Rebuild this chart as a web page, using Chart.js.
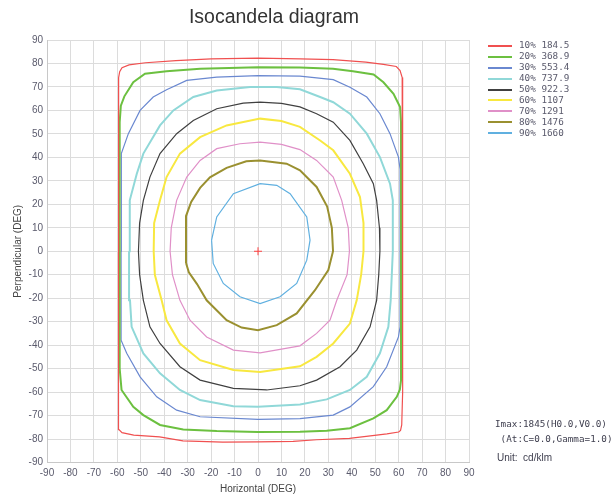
<!DOCTYPE html>
<html>
<head>
<meta charset="utf-8">
<title>Isocandela diagram</title>
<script src="https://cdn.jsdelivr.net/npm/chart.js@4.4.1/dist/chart.umd.min.js"></script>
<style>
  html, body { margin: 0; padding: 0; background: #fff; }
  #wrap { position: relative; width: 613px; height: 496px; }
</style>
</head>
<body>
<div id="wrap"><canvas id="iso" width="613" height="496"></canvas></div>
<script>
// --- Data ---
const titleText = 'Isocandela diagram';
const levels    = ['10%', '20%', '30%', '40%', '50%', '60%', '70%', '80%', '90%'];
const values    = ['184.5', '368.9', '553.4', '737.9', '922.3', '1107', '1291', '1476', '1660'];
const infoLines = ['Imax:1845(H0.0,V0.0)', ' (At:C=0.0,Gamma=1.0)'];
const unitText  = 'Unit:  cd/klm';
const axisRange = { min: -90, max: 90, step: 10 };
const centre    = [[0, 0]];

// contour points [horizontal, perpendicular] in degrees
const c10 = [[-59.5,0],[-59.5,60],[-59.4,74],[-59,76.5],[-58,78.2],[-55,79.4],[-48,80.3],[-35,81.2],[-20,82],[0,82.3],[18,82],[32,81.6],[46,80.6],[53.5,79.6],[59,78.7],[60.6,77],[61.5,74],[61.7,60],[61.7,0],[61.7,-60],[61.3,-74],[60.8,-76.3],[60,-77],[55,-77.8],[50.6,-78.3],[39,-79.7],[25,-80.3],[15,-81],[0,-81.2],[-15,-81.3],[-32,-80.8],[-42,-79.1],[-53,-78.3],[-58,-77.3],[-59.3,-76],[-59.5,-60],[-59.5,0]];
const c20 = [[-59,0],[-59,55],[-58.5,62],[-57,66],[-53.2,72],[-48.2,75.6],[-39,76.7],[-24.7,77.7],[0,78.4],[17.9,78.3],[32,77.7],[40.5,76.7],[49.3,75.3],[53.5,72],[57.8,67.1],[60.6,61.4],[61,55],[61,0],[61,-55],[60.5,-59],[59.2,-62],[54.9,-67.7],[49.2,-71.2],[39.2,-75.4],[29.3,-76.5],[17.9,-76.9],[0,-77],[-17.6,-76.6],[-31.9,-75.9],[-41.8,-74],[-48.9,-69.8],[-53.2,-66.3],[-58.2,-59.1],[-59,-50],[-59,0]];
const c30 = [[-58.4,0],[-58.3,41.6],[-55.3,50.1],[-50.3,60],[-44.7,65.7],[-39,68.8],[-30.4,72.8],[-17.6,74.2],[0,74.8],[17.9,74.6],[32.1,73.1],[39.2,69.9],[46.4,65.7],[52,58.6],[56.3,50.1],[59.9,40.1],[60.6,35],[60.6,0],[60.6,-32.2],[59.9,-36.5],[54.9,-49.2],[49.2,-57.7],[39.2,-66.3],[32.1,-69.8],[17.9,-71.3],[0,-71.6],[-24.7,-70.5],[-34.7,-67.7],[-43.2,-62],[-50.3,-53.5],[-56,-43.5],[-58.4,-37.9],[-58.4,0]];
const c40 = [[-55,0],[-54.8,15],[-54.6,21.7],[-51.7,33],[-48.9,41.6],[-41.8,53.6],[-36.1,60],[-27.6,65.7],[-17.6,68.5],[-3.4,70],[8,70],[17.9,69],[26.5,65.7],[32.1,63.5],[39.2,58.6],[46.4,50.1],[52,40.1],[56.3,28.8],[57.5,21.7],[57.5,0],[56.6,-20.9],[55.6,-32.2],[52,-43.5],[46.4,-53.5],[39.2,-59.1],[29.3,-63.1],[17.9,-65.3],[0,-66.3],[-10.5,-66],[-24.7,-63.4],[-33.3,-59.1],[-41.8,-52],[-48.9,-43.5],[-53.9,-32.2],[-54.6,-20.9],[-55,0]];
const c50 = [[-51,0],[-50.5,12],[-48.9,21.7],[-46.1,31.6],[-41.8,41.6],[-34.7,50.1],[-27.6,55.7],[-17.6,60.7],[-6.3,63.1],[0.9,63.5],[10,63],[17.9,61.5],[25,58.6],[32.1,55],[39.2,47.2],[44.9,37.3],[49.2,28.8],[50.6,21.7],[51.8,10],[52,0],[51.5,-10],[50.6,-20.9],[47.8,-32.2],[42.1,-42.1],[35,-49.2],[25,-54.9],[17.9,-57.3],[3.7,-59.1],[-10.5,-58.4],[-24.7,-54.9],[-33.3,-49.2],[-41.8,-39.3],[-46.1,-32.2],[-48.9,-20.9],[-50.5,-10],[-51,0]];
const c60 = [[-44.5,0],[-44.3,12],[-41.8,21.7],[-39,31.6],[-33.3,41.6],[-24.7,48.6],[-13.4,53.6],[0.9,56.5],[10,55.5],[17.9,53],[26.5,47.2],[32.1,43],[39.2,33],[43.5,23.1],[45,12],[45,0],[44,-10],[42.1,-20.9],[39.2,-30.8],[32.1,-39.3],[25,-45],[17.9,-49],[0.9,-51.4],[-10.5,-50.6],[-24.7,-46.4],[-33.3,-39.3],[-39,-29.4],[-41.1,-20.9],[-44,-10],[-44.5,0]];
const c70 = [[-37.5,0],[-37,10],[-34.7,21.7],[-30.4,31.6],[-24.7,38.7],[-17.6,43.7],[-7.7,45.8],[0.9,46.5],[10,45.5],[17.9,43.3],[25,38.7],[32.1,31.6],[35.7,21.7],[38.5,10],[39,0],[38,-10],[33.6,-20.9],[30.7,-29.4],[25,-35],[17.9,-40.3],[0.9,-43.3],[-10.5,-42.1],[-21.9,-36.5],[-29,-29.4],[-33.3,-20.9],[-36.5,-10],[-37.5,0]];
const c80 = [[-30.7,-5],[-30.7,15],[-28.5,21],[-24.7,27],[-20.5,31.5],[-13.4,35.5],[-5,38.3],[0.9,38.7],[12.2,37.3],[17.9,34.5],[25,27.4],[29.5,19],[31.5,10],[32,0],[30,-8],[24.3,-16.6],[16.5,-26.5],[8,-31.5],[0,-33.6],[-7,-32.5],[-13.4,-29.4],[-21.9,-20.9],[-26,-14],[-29.5,-9],[-30.7,-5]];
const c90 = [[-19.8,4.7],[-19.1,-5.2],[-14.8,-13.7],[-7.7,-19.4],[0.9,-22.3],[9.4,-19.4],[16.5,-13.7],[20.8,-3.8],[22.2,4.7],[20.8,14.6],[13.7,24.5],[8,28.1],[0.9,28.8],[-10.5,24.5],[-17.6,14.6],[-19.8,4.7]];

const contours = [c10, c20, c30, c40, c50, c60, c70, c80, c90];

// --- Styles ---
const lineColors = ['#f05050', '#6cc040', '#6a88d0', '#90d8d8', '#404040', '#f8e840', '#e090c8', '#9a9030', '#60b0e0'];
const lineWidths = [1.2, 2, 1.2, 2, 1.2, 2, 1.2, 2, 1.2];
const textColor  = '#5a5a6c';

const toXY = pts => pts.map(([x, y]) => ({ x, y }));

const datasets = contours.map((pts, i) => ({
  label: `${levels[i]} ${values[i]}`,
  data: toXY(pts),
  showLine: true,
  borderColor: lineColors[i],
  backgroundColor: lineColors[i],
  borderWidth: lineWidths[i],
  pointRadius: 0,
  tension: 0,
  fill: false,
}));

// red centre cross
datasets.push({
  label: 'centre',
  data: toXY(centre),
  pointStyle: 'cross',
  pointRadius: 4,
  borderColor: '#ff4040',
  borderWidth: 1,
  inLegend: false,
});

// --- Title, legend and info text drawn on the canvas ---
const isoDecor = {
  id: 'isoDecor',
  afterDraw(chart) {
    const ctx = chart.ctx;
    ctx.save();

    ctx.fillStyle = '#333333';
    ctx.font = '19.5px "Liberation Sans", Arial, sans-serif';
    ctx.textAlign = 'center';
    ctx.textBaseline = 'middle';
    ctx.fillText(titleText, 274, 18);

    // legend
    ctx.font = '9.3px "DejaVu Sans Mono", monospace';
    ctx.textAlign = 'left';
    chart.data.datasets.forEach((ds, i) => {
      if (ds.inLegend === false) return;
      const y = 45.7 + i * 10.95;
      ctx.strokeStyle = ds.borderColor;
      ctx.lineWidth = 2;
      ctx.beginPath();
      ctx.moveTo(488, Math.round(y));
      ctx.lineTo(512, Math.round(y));
      ctx.stroke();
      ctx.fillStyle = textColor;
      ctx.fillText(ds.label, 519, y);
    });

    // info block
    ctx.fillStyle = '#404050';
    ctx.fillText(infoLines[0], 495, 425);
    ctx.fillText(infoLines[1], 495, 440);
    ctx.font = '10px "Liberation Sans", Arial, sans-serif';
    ctx.fillText(unitText, 497, 458);

    ctx.restore();
  },
};

const axisTitleFont = { family: '"Liberation Sans", Arial, sans-serif', size: 10 };
const tickFont = { family: '"Liberation Sans", Arial, sans-serif', size: 10 };

new Chart(document.getElementById('iso'), {
  type: 'scatter',
  data: { datasets },
  plugins: [isoDecor],
  options: {
    responsive: false,
    animation: false,
    events: [],
    layout: { padding: { left: 0, right: 144, top: 40, bottom: 0 } },
    plugins: { legend: { display: false }, tooltip: { enabled: false }, title: { display: false } },
    scales: {
      x: {
        type: 'linear',
        min: axisRange.min, max: axisRange.max,
        afterFit: s => { s.height = 33.5; },
        ticks: { stepSize: axisRange.step, color: textColor, font: tickFont, padding: 5, maxRotation: 0, autoSkip: false },
        grid: { color: '#dcdcdc', drawTicks: false },
        border: { color: '#c8c8c8' },
        title: { display: true, text: 'Horizontal (DEG)', color: '#444444', font: axisTitleFont, padding: { top: 0, bottom: 1 } },
      },
      y: {
        type: 'linear',
        min: axisRange.min, max: axisRange.max,
        afterFit: s => { s.width = 47; },
        ticks: { stepSize: axisRange.step, color: textColor, font: tickFont, padding: 4, autoSkip: false },
        grid: { color: '#dcdcdc', drawTicks: false },
        border: { color: '#c8c8c8' },
        title: { display: true, text: 'Perpendicular (DEG)', color: '#444444', font: axisTitleFont, padding: { top: 12, bottom: 0 } },
      },
    },
  },
});
</script>
</body>
</html>
